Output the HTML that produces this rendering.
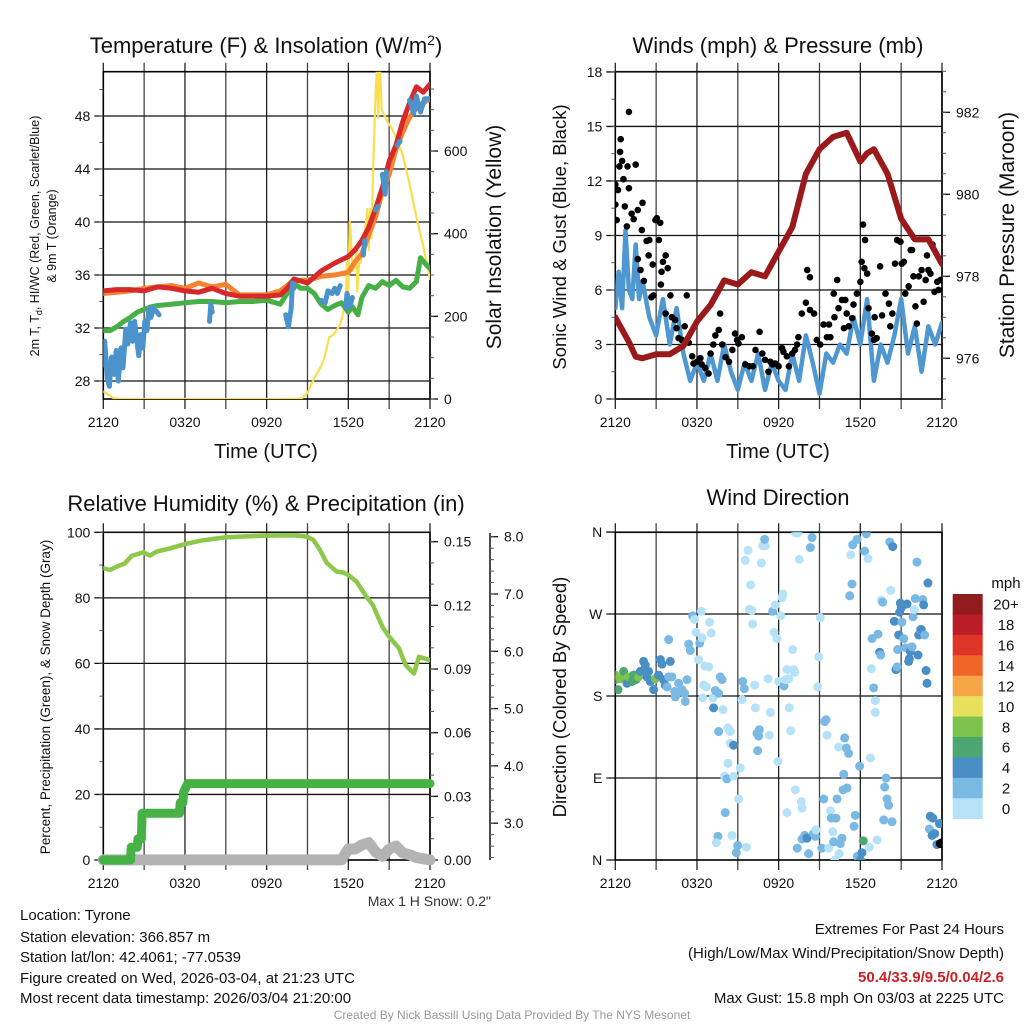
<!DOCTYPE html>
<html><head><meta charset="utf-8"><title>Tyrone Meteogram</title>
<style>
html,body{margin:0;padding:0;background:#fff;}
svg{display:block;font-family:"Liberation Sans",Arial,sans-serif;}
</style></head>
<body>
<svg id="chart" width="1024" height="1024" viewBox="0 0 1024 1024"></svg>
<script>
// ---------- DATA ----------
const timeLabels = ["2120","0320","0920","1520","2120"];
const tempTicks = [28,32,36,40,44,48];
const solarTicks = [0,200,400,600];
const windTicks = [0,3,6,9,12,15,18];
const pressTicks = [976,978,980,982];
const rhTicks = [0,20,40,60,80,100];
const precipTicks = [0.00,0.03,0.06,0.09,0.12,0.15];
const snowTicks = [3,4,5,6,7,8];
const dirTicks = [0,90,180,270,360];
const dirTickLabels = ["N","E","S","W","N"];
const speedBins = ["0","2","4","6","8","10","12","14","16","18","20+"];

const redTimes = [0,1,2,3,4,5,6,7,8,9,10,11,12,13,13.5,14,15,16,17,18,18.5,19,19.5,20,20.5,21,21.5,22,22.5,23,23.5,24];
const redVals  = [34.8,34.9,34.9,34.8,35.1,35.0,34.8,34.7,35.0,34.6,34.4,34.4,34.4,34.5,35.0,35.7,35.4,36.3,36.9,37.4,37.9,38.6,39.6,41.0,42.6,44.6,45.8,47.6,49.0,50.2,49.8,50.4];
const orangeTimes = [0,1,2,3,4,5,6,7,8,9,10,11,12,13,14,15,16,17,18,18.5,19,19.5,20,20.5,21,21.5,22,22.5,23,23.5,24];
const orangeVals  = [34.6,34.7,34.8,35.0,35.1,35.2,35.0,35.4,35.1,35.3,34.5,34.5,34.5,34.8,35.6,35.6,35.9,36.0,36.2,37.0,37.6,39.0,40.4,42.3,43.6,45.5,46.8,47.9,48.6,49.0,49.3];
const greenTimes = [0,0.5,1,1.5,2,2.5,3,3.5,4,5,6,7,8,9,10,11,12,13,13.5,14,14.5,15,15.5,16,16.5,17,17.5,18,18.3,18.7,19,19.5,20,20.5,21,21.5,22,22.5,23,23.3,23.7,24];
const greenVals  = [31.8,31.8,32.1,32.5,32.8,33.2,33.4,33.6,33.7,33.8,33.9,34.0,34.0,33.9,34.0,34.0,34.1,33.8,34.6,35.4,35.0,35.0,34.6,33.8,33.4,33.7,33.9,33.2,33.6,33.0,34.3,35.2,35.0,35.5,35.2,35.6,35.1,35.0,35.5,37.3,36.8,36.5];
const wcTimes = [0,0.1,0.3,0.45,0.6,0.8,0.95,1.1,1.3,1.45,1.65,1.8,2.0,2.15,2.3,2.45,2.6,2.75,2.9,3.05,3.2,3.35,3.5,3.7,4.1,4.2,7.8,7.9,8.0,8.1,13.4,13.6,13.8,13.9,14.0,14.1,16.0,16.3,16.5,16.8,17.0,17.2,17.4,17.5,17.8,17.9,18.1,18.3,18.4,19.1,19.2,19.3,20.0,20.2,20.3,20.5,20.7,20.8,20.9,21.6,21.8,21.9,22.5,22.8,23.0,23.3,23.6,24];
const wcVals  = [29.2,31.0,28.2,27.6,29.8,28.5,30.3,28.0,30.5,29.0,31.9,30.8,32.4,31.0,32.5,31.2,29.9,31.5,30.5,32.5,31.8,33.5,32.8,33.5,33.0,null,32.5,33.8,33.2,null,33.0,32.1,33.5,35.4,35.0,null,34.1,33.9,34.8,34.6,35.0,34.6,35.2,null,33.5,34.6,33.6,34.3,null,37.5,38.6,null,40.9,41.2,null,43.6,42.1,43.8,null,45.8,46.1,null,49.2,48.2,49.5,48.3,49.3,49.3];
const solarTimes = [0,0.3,0.7,1.2,14.2,14.6,15.0,15.5,16.0,16.2,16.6,16.9,17.2,17.4,17.6,17.8,17.9,18.0,18.1,18.2,18.3,18.5,18.6,18.65,18.8,18.9,19.1,19.2,19.4,19.5,19.6,19.7,19.8,20.0,20.1,20.15,20.2,20.3,20.45,20.6,20.9,21.2,21.6,22.0,22.5,23.0,23.5,24];
const solarVals  = [18,12,3,0,0,2,15,50,80,95,150,155,170,180,205,240,330,250,430,390,310,320,360,260,330,330,370,400,460,360,460,390,530,740,800,740,680,830,700,690,670,655,625,590,520,440,370,290];

const windTimes = [0,0.25,0.5,0.75,1,1.25,1.5,1.75,2,2.5,3,3.5,4,4.5,5,5.5,6,6.5,7,7.5,8,8.5,9,9.5,10,10.5,11,11.5,12,12.5,13,13.5,14,14.5,15,15.5,16,16.5,17,17.5,18,18.5,19,19.5,20,20.5,21,21.5,22,22.5,23,23.5,24];
const windVals  = [5,7,5,9.3,6,5.5,8.5,5.5,6.5,4.5,3.5,5.5,3,5,2.5,1,2,1,2.5,1,3,1.5,0.5,2,1,2.5,0.5,2,1,0.5,2.5,1,3.5,2,0.3,2.5,2,3,2.5,4.5,3,5.5,1,3,2,3.5,5.5,2.5,4,1.5,4,3,4.2];
const gustTimes = [0,0,0.1,0.2,0.3,0.35,0.4,0.5,0.6,0.7,0.85,1.0,1.0,0.9,1.2,1.35,1.5,1.65,1.95,2.0,1.65,1.85,2.1,2.3,2.45,2.5,2.65,2.75,2.8,2.95,3.05,3.2,3.3,3.4,3.35,3.5,3.7,3.85,4.05,3.7,4.15,4.4,4.5,4.65,4.9,5.1,5.25,5.4,5.65,5.75,6.0,6.25,6.35,6.6,6.85,7.0,7.2,7.35,7.6,7.7,7.85,8.1,8.35,8.6,8.8,8.95,9.05,9.3,9.55,9.85,10.1,10.3,10.6,10.8,11.0,11.25,11.4,11.55,11.75,12.0,12.25,12.35,12.6,12.75,13.0,13.2,13.35,13.45,13.7,14.1,14.3,14.0,14.3,14.6,14.8,15.05,15.3,15.55,15.7,15.8,16.05,16.3,16.1,16.4,16.65,16.8,16.9,17.0,17.15,17.4,17.5,17.75,18.0,18.1,18.2,18.35,18.3,18.5,18.6,18.85,19.0,19.05,19.2,19.45,19.6,19.85,20.1,20.2,20.35,20.55,20.7,20.95,21.05,21.2,21.3,21.55,21.7,21.8,21.9,22.05,22.15,22.3,22.5,22.65,22.8,22.9,23.0,23.15,23.3,23.45,23.65,23.75,23.9];
const gustVals  = [11.8,10.7,9.85,11.5,12.8,13.6,14.3,13.1,12.1,10.6,9.5,15.8,11.6,12.8,10.2,9.9,12.9,10.4,9.3,10.8,7.7,7.1,6.5,8.7,7.9,8.75,5.6,7.4,5.7,9.85,9.95,8.75,9.7,7.0,6.3,7.55,7.9,7.2,5.7,4.7,4.5,4.35,3.9,3.35,3.25,4.0,5.7,3.1,2.35,1.95,2.05,2.25,1.9,1.7,1.4,2.5,3.0,3.5,3.8,4.7,3.0,2.3,2.05,2.7,3.6,3.25,3.05,3.4,1.9,1.8,1.8,2.7,3.7,2.5,2.15,1.5,2.05,1.9,1.95,1.8,2.8,2.6,2.35,1.8,2.5,2.7,3.0,3.4,4.7,7.1,6.7,5.3,4.9,4.7,3.25,3.0,4.1,3.4,4.1,3.4,5.8,6.55,4.5,5.0,5.45,3.9,5.45,4.7,4.0,4.45,5.2,5.8,6.45,7.55,9.6,8.75,7.2,6.9,5.0,3.6,3.25,4.5,3.35,7.3,4.6,5.8,5.25,4.0,4.7,7.45,8.75,8.65,7.45,7.55,5.8,6.2,8.2,8.2,6.75,5.1,4.15,6.75,7.1,5.35,6.55,7.9,7.1,6.9,8.5,5.9,6.45,6.0,6.55];
const pressTimes = [0,1,1.5,2,3,4,5,6,7,8,9,10,11,12,13,14,15,16,17,18,18.5,19,20,21,22,23,24];
const pressVals  = [977.0,976.4,976.04,976.0,976.1,976.1,976.3,976.9,977.3,977.9,977.8,978.1,978.0,978.6,979.2,980.5,981.1,981.4,981.5,980.8,981.0,981.1,980.5,979.4,978.9,978.9,978.3];

const rhTimes = [0,0.49,0.98,1.59,2.08,2.94,3.43,3.92,4.9,6.0,7.1,8.08,9.06,10.04,12.0,13.96,14.94,15.43,15.92,16.41,17.14,17.63,18.0,18.59,19.32,19.8,20.5,20.99,21.72,22.21,22.82,23.19,24];
const rhVals  = [89,88.5,89.5,90.5,92.8,93.9,92.9,94.1,95.1,96.4,97.4,98,98.5,98.7,99,99.1,98.7,97.7,94.6,90.7,88,87.7,87,85,80.4,77.8,71.2,68.2,64.6,59.5,56.9,62,61];
const precipTimes = [0,2.0,2.05,2.5,2.55,2.8,2.85,5.6,5.65,5.85,5.9,6.2,24];
const precipVals  = [0,0,0.006,0.006,0.01,0.01,0.022,0.022,0.027,0.027,0.032,0.036,0.036];
const snowTimes = [0,17.5,18,18.5,19,19.5,20,20.5,21,21.5,22,22.5,23,23.5,24];
const snowVals  = [2.36,2.36,2.55,2.55,2.62,2.66,2.5,2.42,2.55,2.6,2.48,2.45,2.4,2.38,2.36];

const dirTimes = [0,0,0.2,0.37,0.61,0.86,0.98,1.22,1.35,1.52,1.71,1.84,2.08,2.2,2.33,2.45,2.57,2.82,2.94,3.18,3.31,3.43,3.55,3.67,3.8,3.92,4.04,4.16,4.36,4.41,4.53,4.65,4.9,5.09,5.14,5.27,3.92,5.39,5.51,5.68,5.83,5.93,6.12,6.2,6.32,6.37,6.49,6.56,6.69,6.86,6.93,7.05,6.42,7.18,7.35,7.22,7.59,7.71,7.84,7.91,7.59,8.28,8.45,8.45,8.69,8.28,9.18,8.03,8.2,8.69,9.06,8.08,7.54,7.42,8.57,8.99,8.89,9.63,9.36,9.48,9.31,9.55,9.75,9.94,9.85,10.04,10.09,10.24,10.29,10.41,10.58,10.53,10.46,10.73,10.83,11.02,10.97,11.22,11.32,11.39,11.56,11.66,11.76,11.88,12,11.95,12.15,12.25,12.32,12.39,12.49,12.61,12.74,12.78,12.88,13.03,13.1,13.18,12.61,13.23,13.27,13.42,13.52,13.67,13.72,13.37,13.72,13.91,14.08,14.2,14.33,14.45,14.57,14.7,14.74,14.87,14.94,15.06,15.31,15.18,15.38,15.48,15.55,15.67,15.8,15.87,15.97,16.04,16.12,16.21,16.29,16.41,16.46,16.53,16.65,16.85,16.97,17.14,16.78,16.73,17.02,17.22,17.29,17.39,17.44,17.63,17.54,17.76,17.78,17.95,18,18.12,18.22,18.32,18.44,18.56,18.66,18.74,18.81,18.86,18.98,19.1,19.1,19.23,19.3,19.42,19.5,19.54,19.64,19.72,19.79,19.89,19.96,20.08,20.16,20.23,20.33,20.38,20.5,20.62,20.7,20.74,20.82,20.89,20.94,21.01,21.06,21.19,21.31,21.43,21.55,21.6,21.67,21.8,21.87,21.97,22.04,22.16,22.24,22.29,22.41,22.48,22.58,22.65,22.73,22.83,22.9,22.97,23.14,23.32,23.07,23.27,23.46,23.63,23.81,23.88,24];
const dirDegs = [198,203,187,199,207,194,201,196,203,198,201,207,218,214,201,207,196,187,199,203,220,215,198,192,190,201,218,201,185,179,183,194,187,183,174,198,242,237,230,268,264,250,220,238,273,244,192,213,190,212,261,249,178,178,186,167,183,201,198,165,141,145,141,128,126,106,101,92,89,92,67,52,26,19,27,16,8,14,196,188,176,329,340,302,275,274,259,192,167,139,143,136,120,326,345,345,352,199,137,162,273,250,280,243,196,108,268,288,292,191,198,209,199,167,142,231,209,206,52,77,359,359,330,64,57,13,23,27,24,7,343,354,29,26,33,190,223,266,67,13,152,154,137,13,54,46,31,20,0,46,67,124,7,18,24,134,123,117,94,77,79,290,335,303,346,49,37,352,4,103,0,8,21,339,358,331,14,112,210,243,189,175,162,22,248,228,225,285,283,44,80,90,67,60,349,296,42,344,262,209,212,231,247,272,282,277,261,243,233,281,218,221,229,234,267,275,287,327,225,247,253,253,286,280,247,208,194,304,48,46,34,27,29,17,40,18,19];
const dirSpeeds = [7,9,7,9,7,5,9,7,7,7,9,5,5,5,5,5,5,5,9,5,5,5,5,5,3,3,5,3,3,3,3,3,3,3,3,3,3,3,3,3,1,1,1,3,1,1,1,1,1,1,1,1,1,1,3,5,3,3,3,1,3,1,1,1,5,1,1,1,3,1,1,3,3,1,1,3,3,1,3,3,1,1,1,1,1,1,1,1,1,3,3,3,3,1,1,1,3,1,1,1,3,1,1,1,1,1,1,1,1,3,1,1,1,1,1,1,1,1,1,1,1,1,1,1,1,3,3,3,5,3,3,3,3,3,1,1,1,1,3,3,3,3,1,1,1,3,1,3,1,3,3,1,1,3,3,3,3,3,3,3,3,3,1,3,3,3,3,3,3,3,5,5,7,3,3,1,1,1,1,3,3,1,1,1,3,5,3,1,3,3,3,3,3,3,3,1,3,5,5,5,3,3,5,5,5,5,3,3,3,5,5,5,5,3,3,1,3,3,5,5,3,5,3,5,3,5,5,5,5,5,3,5,5,5,5];
const binColors = ["#b6e2f7","#7ab9e4","#4a8ec6","#4ba672","#7dc24c","#e6e05a","#f6a646","#ef6529","#de3528","#bb1d26","#921b1e"];

// ---------- DRAWING ----------
const NS = 'http://www.w3.org/2000/svg';
const svg = document.getElementById('chart');
function mk(tag, attrs, parent){const e=document.createElementNS(NS,tag);for(const k in attrs)e.setAttribute(k,attrs[k]);(parent||svg).appendChild(e);return e;}
function txt(str, attrs, parent){const e=mk('text',attrs,parent);e.textContent=str;return e;}

const P1={x0:103.3,x1:430,y0:71.7,y1:399,id:'temp'};
const P2={x0:615.3,x1:942,y0:71.7,y1:399,id:'wind'};
const P3={x0:103.3,x1:430,y0:532.3,y1:860,id:'rh'};
const P4={x0:615.3,x1:942,y0:532.3,y1:860,id:'dir'};
function xs(P,t){return P.x0+t/24*(P.x1-P.x0);}
const yTemp=v=>116-(v-48)*13.25;
const ySolar=v=>399-v*0.4133;
const yWind=v=>399-v*18.17;
const yPress=v=>112.3-(v-982)*41;
const yRH=v=>860-v*3.277;
const yPrecip=v=>860-v*2122;
const ySnow=v=>823.2-(v-3)*57.3;
const yDir=v=>860-v*0.911;

const defs=mk('defs',{});
[P1,P2,P3,P4].forEach(P=>{const c=mk('clipPath',{id:'clip-'+P.id},defs);mk('rect',{x:P.x0,y:P.y0,width:P.x1-P.x0,height:P.y1-P.y0},c);});

function pathD(P,times,vals,yf){let d='',pen=false;for(let i=0;i<times.length;i++){const v=vals[i];if(v===null||v===undefined){pen=false;continue;}d+=(pen?'L':'M')+xs(P,times[i]).toFixed(1)+' '+yf(v).toFixed(1);pen=true;}return d;}

function frame(P, name){
  const g=mk('g',{});
  
  
  for(let k=0;k<=8;k++){const x=xs(P,k*3);mk('line',{x1:x,x2:x,y1:P.y0-9,y2:P.y1+10,stroke:(k%2==0?'#222':'#444'),'stroke-width':1.3},g);}
  timeLabels.forEach((lab,i)=>{const t=txt(lab,{x:xs(P,i*6),y:P.y1+28,'font-size':14,'text-anchor':'middle',fill:'#111'},g);
    
    });
  mk('rect',{x:P.x0,y:P.y0,width:P.x1-P.x0,height:P.y1-P.y0,fill:'none',stroke:'#000','stroke-width':1.6},g);
  return g;
}
function hGrid(P,ticks,yf,labels,g,minorStep,lo,hi){
  ticks.forEach((v,i)=>{const y=yf(v);mk('line',{x1:P.x0-9,x2:P.x1,y1:y,y2:y,stroke:'#111','stroke-width':1.3},g);
    const t=txt(labels?labels[i]:String(v),{x:P.x0-13,y:y+5,'font-size':14,'text-anchor':'end',fill:'#111'},g);
    
    });
  if(minorStep){for(let v=lo;v<=hi+1e-9;v+=minorStep){const y=yf(v);if(y<P.y0-0.5||y>P.y1+0.5)continue;mk('line',{x1:P.x0-4,x2:P.x0,y1:y,y2:y,stroke:'#555','stroke-width':1},g);}}
}
function rightTicks(P,ticks,yf,fmt,g,minorStep,lo,hi,x){
  const xa=x||P.x1;
  ticks.forEach(v=>{const y=yf(v);mk('line',{x1:xa,x2:xa+8,y1:y,y2:y,stroke:'#111','stroke-width':1.3},g);
    const t=txt(fmt(v),{x:xa+14,y:y+5,'font-size':14,fill:'#111'},g);
    
    });
  for(let v=lo;v<=hi+1e-9;v+=minorStep){const y=yf(v);if(y<P.y0-0.5||y>P.y1+0.5)continue;mk('line',{x1:xa,x2:xa+4,y1:y,y2:y,stroke:'#555','stroke-width':1},g);}
}
function line(P,times,vals,yf,color,w,name){const p=mk('path',{d:pathD(P,times,vals,yf),fill:'none',stroke:color,'stroke-width':w,'stroke-linejoin':'round','stroke-linecap':'round','clip-path':'url(#clip-'+P.id+')'});
  
  return p;}
function rotText(str,x,y,size,name){const t=txt(str,{x:x,y:y,'font-size':size,'text-anchor':'middle',fill:'#111',transform:'rotate(-90 '+x+' '+y+')'});
  
  return t;}
function title(str,x,y,size,name){const t=txt(str,{x:x,y:y,'font-size':size,'text-anchor':'middle',fill:'#111'});
  
  return t;}

// ----- Panel 1 -----
let g1=frame(P1,'temperature-panel');
hGrid(P1,tempTicks,yTemp,null,g1,2,28,50);
rightTicks(P1,solarTicks,ySolar,v=>String(v),g1,50,0,750);
line(P1,solarTimes,solarVals,ySolar,'#f9df4f',2.2,'solar-insolation-line');
line(P1,greenTimes,greenVals,yTemp,'#46b046',5,'dewpoint-line');
line(P1,orangeTimes,orangeVals,yTemp,'#f5822f',5,'9m-temperature-line');
line(P1,redTimes,redVals,yTemp,'#d7282a',5,'2m-temperature-line');
line(P1,wcTimes,wcVals,yTemp,'#4b93cc',5,'windchill-line');
const t1=title('',266,53,22,'temperature-title');
t1.innerHTML='Temperature (F) &amp; Insolation (W/m<tspan dy="-8" font-size="14">2</tspan><tspan dy="8">)</tspan>';
const yl=rotText('',39,236,12.5,'temp-y-axis-title');
yl.innerHTML='2m T, T<tspan dy="3" font-size="9">d</tspan><tspan dy="-3">, HI/WC (Red, Green, Scarlet/Blue)</tspan>';
rotText('& 9m T (Orange)',56,236,12.5,'temp-y-axis-title-line2');
rotText('Solar Insolation (Yellow)',501,237,21,'solar-y-axis-title');
title('Time (UTC)',266,458,20,'temp-x-axis-title');

// ----- Panel 2 -----
let g2=frame(P2,'wind-panel');
hGrid(P2,windTicks,yWind,null,g2,1.5,0,18);
rightTicks(P2,pressTicks,yPress,v=>String(v),g2,0.5,975,983);
line(P2,windTimes,windVals,yWind,'#4f97d0',4.5,'sonic-wind-line');
const gg=mk('g',{'clip-path':'url(#clip-wind)'});


gustTimes.forEach((t,i)=>{const c=mk('circle',{cx:xs(P2,t),cy:yWind(gustVals[i]),r:3.3,fill:'#000'},gg);
  
  });
line(P2,pressTimes,pressVals,yPress,'#9a1a1c',6,'station-pressure-line');
title('Winds (mph) & Pressure (mb)',778,53,22,'wind-title');
rotText('Sonic Wind & Gust (Blue, Black)',566,237,18.5,'wind-y-axis-title');
rotText('Station Pressure (Maroon)',1014,235,21,'pressure-y-axis-title');
title('Time (UTC)',778,458,20,'wind-x-axis-title');

// ----- Panel 3 -----
let g3=frame(P3,'humidity-panel');
hGrid(P3,rhTicks,yRH,null,g3,10,0,100);
rightTicks(P3,precipTicks,yPrecip,v=>v.toFixed(2),g3,0.01,0,0.15);
mk('line',{x1:490,x2:490,y1:533,y2:860,stroke:'#111','stroke-width':1.5},g3);
rightTicks(P3,snowTicks,ySnow,v=>v.toFixed(1),g3,0.2,2.4,8.2,490);
const c3=mk('g',{'clip-path':'url(#clip-rh)'});


const sn=mk('path',{d:pathD(P3,snowTimes,snowVals,ySnow),fill:'none',stroke:'#b3b3b3','stroke-width':11,'stroke-linejoin':'round','stroke-linecap':'round'});


const pr=mk('path',{d:pathD(P3,precipTimes,precipVals,yPrecip),fill:'none',stroke:'#46b246','stroke-width':9,'stroke-linejoin':'round','stroke-linecap':'round'});


line(P3,rhTimes,rhVals,yRH,'#8dc84a',4.5,'relative-humidity-line');
title('Relative Humidity (%) & Precipitation (in)',266,511,22,'humidity-title');
rotText('Percent, Precipitation (Green), & Snow Depth (Gray)',50,697,13.5,'humidity-y-axis-title');
const ms=txt('Max 1 H Snow: 0.2"',{x:491,y:906,'font-size':14,'text-anchor':'end',fill:'#333'});



// ----- Panel 4 -----
let g4=frame(P4,'direction-panel');
hGrid(P4,dirTicks,yDir,dirTickLabels,g4,0,0,0);
const dg=mk('g',{'clip-path':'url(#clip-dir)'});


dirTimes.forEach((t,i)=>{const b=Math.min(10,Math.floor(dirSpeeds[i]/2));const c=mk('circle',{cx:xs(P4,t),cy:yDir(dirDegs[i]),r:4.5,fill:binColors[b]},dg);
  
  });
title('Wind Direction',778,505,22,'direction-title');
rotText('Direction (Colored By Speed)',566,697,18.5,'direction-y-axis-title');
// colorbar
const cb=mk('g',{});


const bh=(818.7-594)/11;
for(let i=0;i<11;i++){const idx=10-i;const r=mk('rect',{x:952.7,y:594+i*bh,width:30,height:bh+0.3,fill:binColors[idx]},cb);
  
  
  const t=txt(speedBins[idx],{x:1006,y:594+i*bh+bh/2+5.5,'font-size':15,'text-anchor':'middle',fill:'#111'},cb);
  
  }
const mph=txt('mph',{x:1006,y:588,'font-size':15,'text-anchor':'middle',fill:'#111'},cb);



// ----- Footer -----
const leftLines=['Location: Tyrone','Station elevation: 366.857 m','Station lat/lon: 42.4061; -77.0539','Figure created on Wed, 2026-03-04, at 21:23 UTC','Most recent data timestamp: 2026/03/04 21:20:00'];
const leftY=[920,942,962,983,1003];
leftLines.forEach((s,i)=>{const t=txt(s,{x:20,y:leftY[i],'font-size':15,fill:'#111'});
  
  });
const rightLines=['Extremes For Past 24 Hours','(High/Low/Max Wind/Precipitation/Snow Depth)','50.4/33.9/9.5/0.04/2.6','Max Gust: 15.8 mph On 03/03 at 2225 UTC'];
const rightY=[934,958,982,1003];
rightLines.forEach((s,i)=>{const red=(i==2);const t=txt(s,{x:1004,y:rightY[i],'font-size':15,'text-anchor':'end',fill:red?'#cc2127':'#111','font-weight':red?'bold':'normal'});
  
  });
const cr=txt('Created By Nick Bassill Using Data Provided By The NYS Mesonet',{x:512,y:1019,'font-size':12,'text-anchor':'middle',fill:'#999'});


</script>
</body></html>
